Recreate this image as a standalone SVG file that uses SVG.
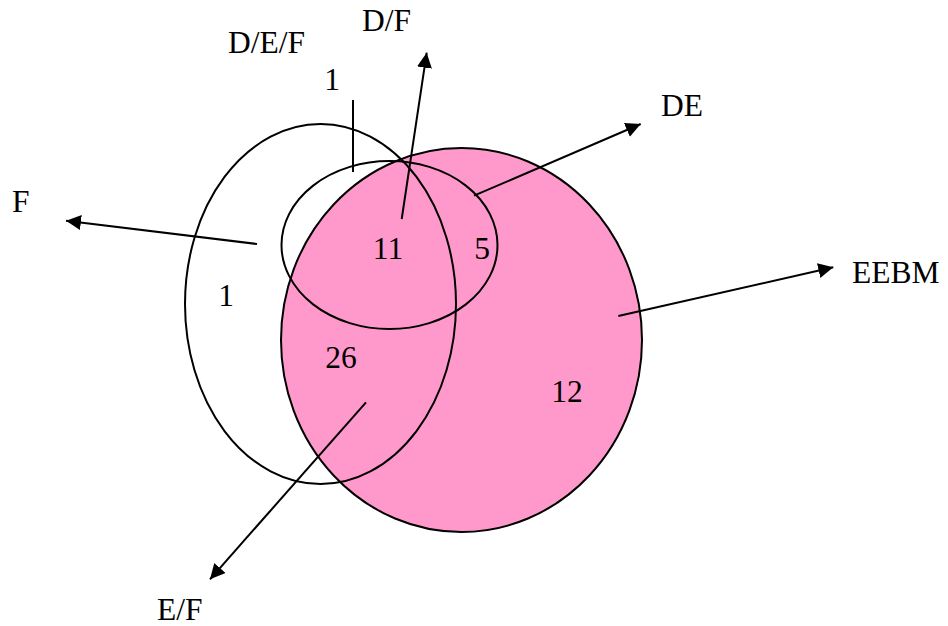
<svg xmlns="http://www.w3.org/2000/svg" width="948" height="626" viewBox="0 0 948 626">
<style>
.s{fill:none;stroke:#000;stroke-width:2}
.t{font-family:"Liberation Serif","Times New Roman",serif;font-size:31.5px;fill:#000}
.c{stroke:#000;stroke-width:2;fill:none}
</style>
<defs>
<marker id="ah" viewBox="0 0 10 10" refX="10" refY="5" markerWidth="15" markerHeight="15" markerUnits="userSpaceOnUse" orient="auto">
<path d="M0,0 L10,5 L0,10 Z" fill="#000"/>
</marker>
</defs>
<rect width="948" height="626" fill="#fff"/>
<g id="EEBM">
<ellipse cx="461.5" cy="340" rx="180.5" ry="192" fill="#FF99CC" stroke="#000" stroke-width="2"/>
</g>
<g id="F">
<ellipse cx="320.5" cy="304" rx="135.5" ry="180" class="s"/>
</g>
<g id="DE">
<ellipse cx="389.5" cy="245" rx="108" ry="84" class="s"/>
</g>
<g id="connectors">
<line class="c" x1="257" y1="244" x2="66" y2="220.7" marker-end="url(#ah)"/>
<line class="c" x1="401.7" y1="219" x2="426.7" y2="52.7" marker-end="url(#ah)"/>
<line class="c" x1="474" y1="195.7" x2="640.7" y2="124" marker-end="url(#ah)"/>
<line class="c" x1="618.3" y1="316" x2="833.3" y2="267.3" marker-end="url(#ah)"/>
<line class="c" x1="366" y1="402.3" x2="210" y2="579.3" marker-end="url(#ah)"/>
<line class="c" x1="353" y1="100" x2="353" y2="172"/>
</g>
<g id="labels">
<text class="t" x="228" y="53">D/E/F</text>
<text class="t" x="362" y="31">D/F</text>
<text class="t" x="332" y="90" text-anchor="middle">1</text>
<text class="t" x="661" y="116">DE</text>
<text class="t" x="12" y="212">F</text>
<text class="t" x="852" y="283">EEBM</text>
<text class="t" x="157" y="620">E/F</text>
<text class="t" x="388" y="259" text-anchor="middle">11</text>
<text class="t" x="482" y="259" text-anchor="middle">5</text>
<text class="t" x="226" y="306" text-anchor="middle">1</text>
<text class="t" x="341" y="368" text-anchor="middle">26</text>
<text class="t" x="567" y="402" text-anchor="middle">12</text>
</g>
</svg>
